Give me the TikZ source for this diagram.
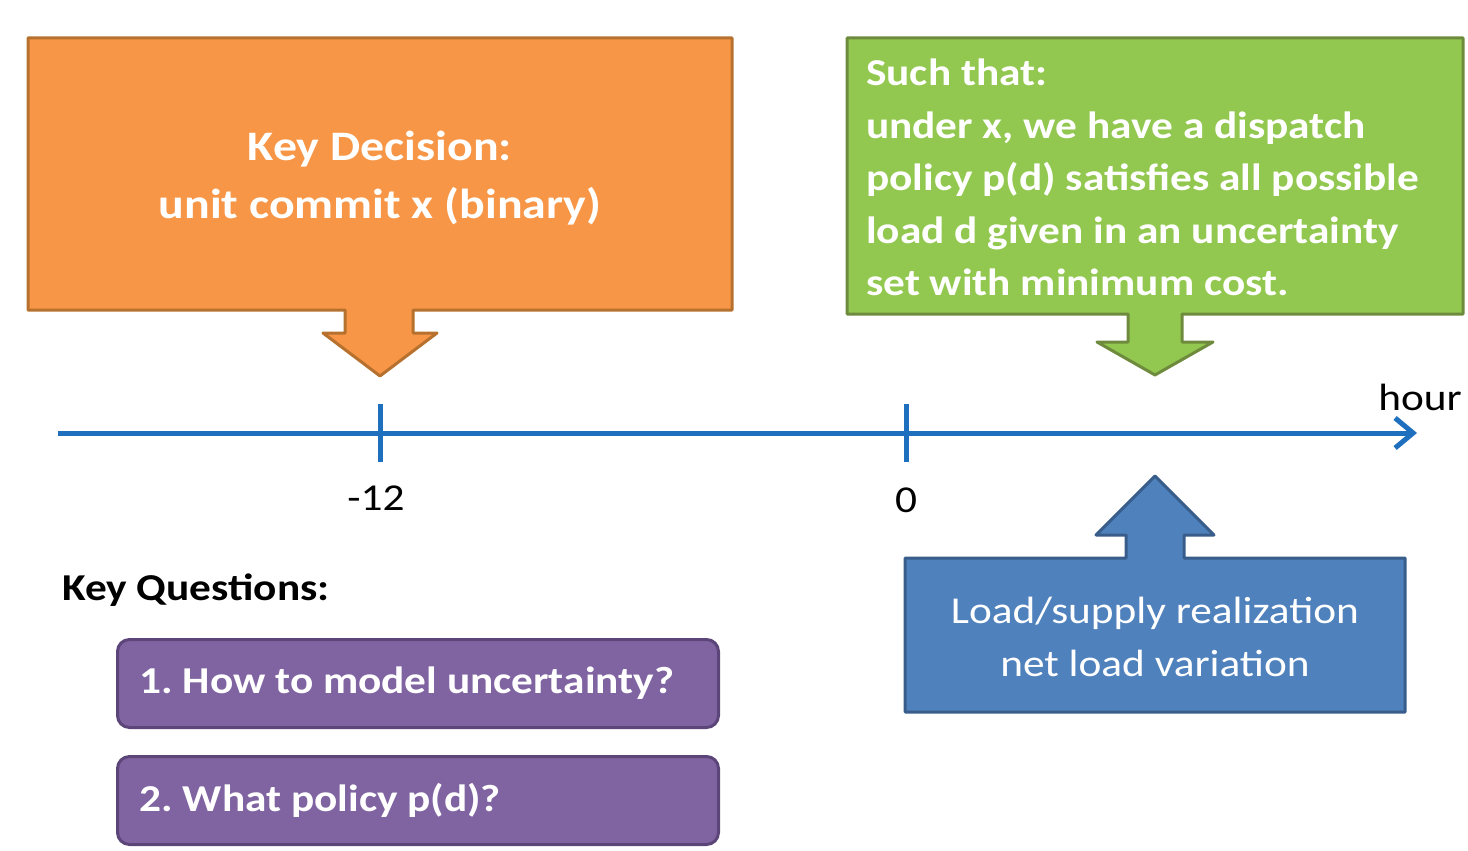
\documentclass[tikz,border=0pt]{standalone}
\usepackage{fontspec}
\setmainfont{Carlito}[FakeStretch=1.14]
\usetikzlibrary{arrows.meta}
\frenchspacing

\definecolor{decfill}{HTML}{F79646}
\definecolor{decline}{HTML}{B7712E}
\definecolor{condfill}{HTML}{92C84F}
\definecolor{condline}{HTML}{6E8B3D}
\definecolor{loadfill}{HTML}{4F81BD}
\definecolor{loadline}{HTML}{385D8A}
\definecolor{qfill}{HTML}{8064A2}
\definecolor{qline}{HTML}{5C4679}
\definecolor{axis}{HTML}{1F6FBF}

\begin{document}
\begin{tikzpicture}[x=1pt, y=-1pt,
    callout/.style={line width=3pt, line join=round},
    qbox/.style={draw=qline, fill=qfill, line width=3pt, rounded corners=12pt,
      minimum width=601pt, minimum height=88pt, text width=557pt, inner xsep=22pt,
      align=flush left, anchor=north west, text=white, font=\fontsize{38}{48}\selectfont\bfseries},
    tick/.style={axis, line width=5pt},
    lbl/.style={font=\fontsize{38}{46}\selectfont, inner sep=0pt}]

    \useasboundingbox (0,0) rectangle (1468,851);

    % decision callout
    \coordinate (DA) at (  28,  38);
    \coordinate (DC) at ( 732, 310);
    \coordinate (Dtip) at ( 380, 376);
    \draw [callout, draw=decline, fill=decfill]
      (DA) -- (732,38) -- (DC) -- (413,310) -- (413,333) -- (437,333) -- (Dtip)
      -- (323,333) -- (345,333) -- (345,310) -- (28,310) -- cycle;
    \node [align=center, text=white, font=\fontsize{42}{58}\selectfont\bfseries] (dec) at (380,178)
      {Key Decision:\\unit commit x (binary)};

    % condition callout
    \coordinate (CA) at ( 847,  38);
    \coordinate (CC) at (1463, 314);
    \coordinate (Ctip) at (1155, 375);
    \draw [callout, draw=condline, fill=condfill]
      (CA) -- (1463,38) -- (CC) -- (1182,314) -- (1182,342) -- (1213,342) -- (Ctip)
      -- (1097,342) -- (1128,342) -- (1128,314) -- (847,314) -- cycle;
    \node [anchor=north west, align=left, inner sep=0pt, text=white,
      font=\fontsize{38}{52.5}\selectfont\bfseries] (cond) at (866,59)
      {Such that:\\under x, we have a dispatch\\policy p(d) satisfies all possible\\load d given in an uncertainty\\set with minimum cost.};

    % realization callout
    \coordinate (LA) at ( 905, 558);
    \coordinate (LC) at (1405, 712);
    \coordinate (Ltip) at (1155, 476);
    \draw [callout, draw=loadline, fill=loadfill]
      (905,712) -- (LA) -- (1126,558) -- (1126,535) -- (1096,535) -- (Ltip)
      -- (1214,535) -- (1184,535) -- (1184,558) -- (1405,558) -- (LC) -- cycle;
    \node [align=center, text=white, font=\fontsize{38}{53}\selectfont] (load) at (1155,637)
      {Load/supply realization\\net load variation};

    % time axis
    \coordinate (axL) at (  58, 433);
    \coordinate (axR) at (1417, 433);
    \draw [axis, line width=5pt, -{Straight Barb[length=18pt, width=30pt]}] (axL) -- (axR);
    \draw [tick] (380,404) -- (380,462);
    \draw [tick] (906,404) -- (906,462);
    \node [lbl] (m12) at (376,498) {-12};
    \node [lbl] (zero) at (906,500) {0};
    \node [lbl] (hour) at (1420,397) {hour};

    % questions
    \node [anchor=west, inner sep=0pt, font=\fontsize{38}{46}\selectfont\bfseries] (keyq) at (62,590) {Key Questions:};
    \node [qbox] (q1) at (116,638) {1. How to model uncertainty?};
    \node [qbox] (q2) at (116,755) {2. What policy p(d)?};

\end{tikzpicture}
\end{document}
